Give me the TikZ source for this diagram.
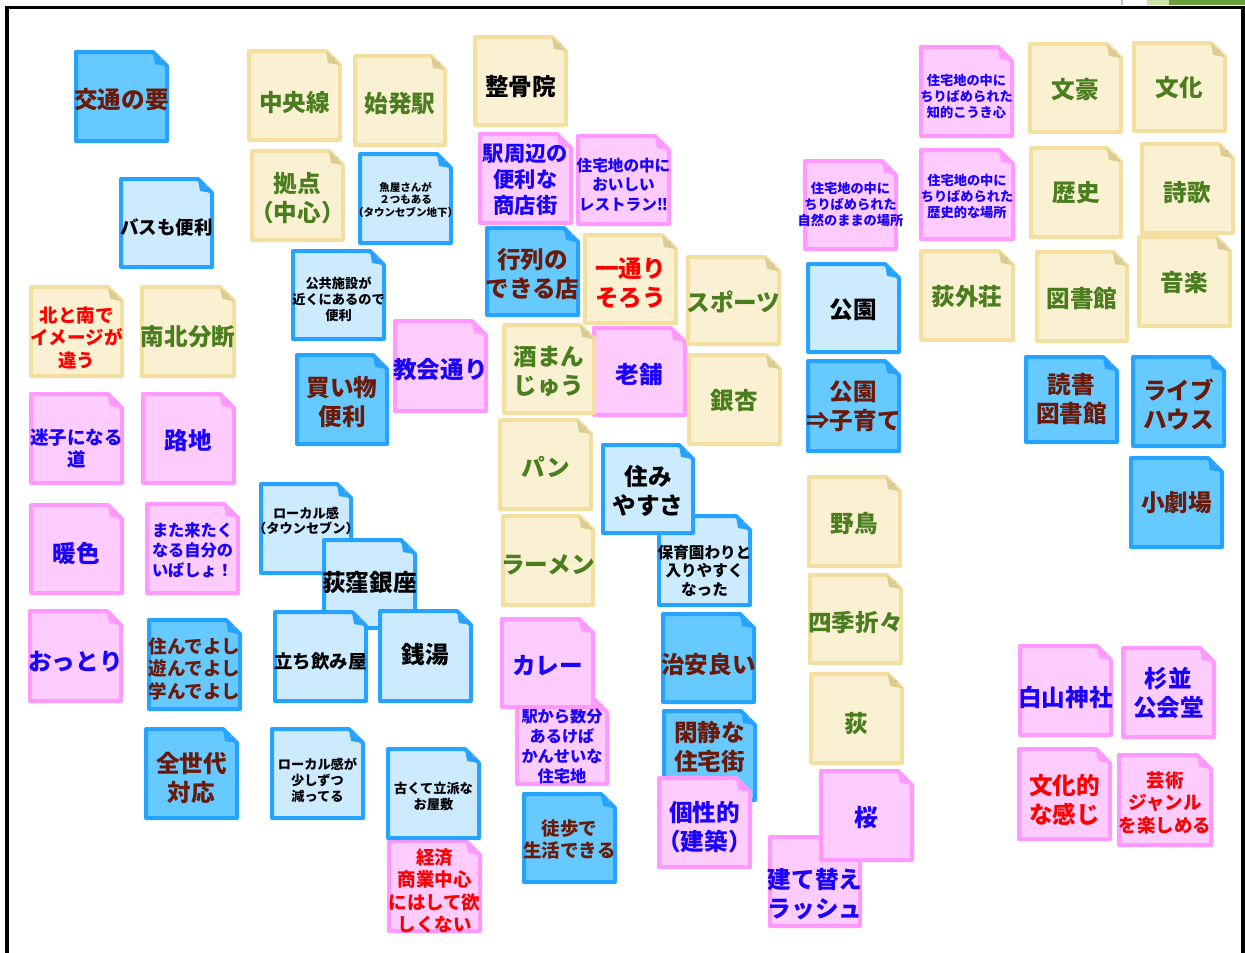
\documentclass[tikz,border=0pt]{standalone}
\usepackage{fontspec}
\setmainfont{Noto Sans CJK JP}
\definecolor{tanfill}{HTML}{FAF0D2}
\definecolor{tanline}{HTML}{F3E0A0}
\definecolor{pinkfill}{HTML}{FFCCFF}
\definecolor{pinkline}{HTML}{FF99FF}
\definecolor{lbluefill}{HTML}{CCEBFF}
\definecolor{dbluefill}{HTML}{66C9FF}
\definecolor{blueline}{HTML}{26A2FF}
\definecolor{txgreen}{HTML}{4A7D1E}
\definecolor{txred}{HTML}{FF0000}
\definecolor{txblue}{HTML}{1A00FF}
\definecolor{txbrown}{HTML}{6B1A0A}
\definecolor{lgreen}{HTML}{C8E2A8}
\definecolor{dgreen}{HTML}{6A9F3A}
\tikzset{
  paper/.style={line width=4pt, line join=round},
  ptan/.style={fill=tanfill, draw=tanline},
  ppink/.style={fill=pinkfill, draw=pinkline},
  plblue/.style={fill=lbluefill, draw=blueline},
  pdblue/.style={fill=dbluefill, draw=blueline},
  fold ptan/.style={fill=tanline!85!black!60!tanline},
  fold ppink/.style={fill=pinkline},
  fold plblue/.style={fill=blueline},
  fold pdblue/.style={fill=blueline},
  notetext/.style={inner sep=0pt, align=center},
  big/.style={font=\bfseries\fontsize{23.6}{29}\selectfont},
  big21/.style={font=\bfseries\fontsize{21.3}{26}\selectfont},
  mid/.style={font=\bfseries\fontsize{18.5}{22.5}\selectfont},
  m16/.style={font=\bfseries\fontsize{16.2}{20}\selectfont},
  m155/.style={font=\bfseries\fontsize{15.6}{19.5}\selectfont},
  m15/.style={font=\bfseries\fontsize{15.6}{18.5}\selectfont},
  s13/.style={font=\bfseries\fontsize{13.2}{16}\selectfont},
  s13b/.style={font=\bfseries\fontsize{13.2}{15}\selectfont},
  s10/.style={font=\bfseries\fontsize{10.5}{12.5}\selectfont},
  tg/.style={text=txgreen},
  tr/.style={text=txred},
  tb/.style={text=txblue},
  tk/.style={text=black},
  tbr/.style={text=txbrown},
}
% #1 name, #2 paper, #3 x1, #4 y1, #5 x2, #6 y2, #7 text y, #8 text style, #9 text
\newcommand\sticky[9]{%
  \draw[paper,#2] ({#3+2},{#4+2}) -- ({#5-16},{#4+2}) -- ({#5-2},{#4+16}) -- ({#5-2},{#6-2}) -- ({#3+2},{#6-2}) -- cycle;
  \fill[fold #2] ({#5-16},{#4+2}) -- ({#5-14},{#4+14}) -- ({#5-2},{#4+16}) -- cycle;
  \fill[gray!60] ({#5-8},{#4+9}) circle (0.9);
  \node[notetext,#8] (#1) at ({(#3+#5)/2},#7) {#9};
}
\begin{document}
\begin{tikzpicture}[x=1pt,y=-1pt]
\useasboundingbox (0,0) rectangle (1245,953);
\fill[white] (0,0) rectangle (1245,953);
% frame
\fill[gray!50] (1121,0) rectangle (1123,5);
\fill[lgreen] (1147,0) rectangle (1169,5);
\fill[dgreen] (1169,0) rectangle (1245,5);
\fill[black] (5,6) rectangle (9,953);
\fill[black] (5,6) rectangle (1245,9);
\fill[black] (1241,6) rectangle (1245,953);
% column 1-2
\sticky{kotsu}{pdblue}{74}{50}{169}{143}{100}{big,tbr}{交通の要}
\sticky{bus}{plblue}{119}{177}{214}{269}{227}{mid,tk}{バスも便利}
\sticky{kitatominami}{ptan}{29}{285}{124}{378}{337.5}{mid,tr}{北と南で\\イメージが\\違う}
\sticky{nanboku}{ptan}{140}{285}{236}{378}{337}{big,tg}{南北分断}
\sticky{maigo}{ppink}{29}{392}{124}{485}{448.5}{mid,tb}{迷子になる\\道}
\sticky{roji}{ppink}{141}{392}{236}{485}{440}{big,tb}{路地}
\sticky{danshoku}{ppink}{29}{503}{124}{595}{553}{big,tb}{暖色}
\sticky{matakitaku}{ppink}{145}{502}{240}{595}{550.5}{m16,tb}{また来たく\\なる自分の\\いばしょ！}
\sticky{otori}{ppink}{28}{609}{123}{703}{662}{big,tb}{おっとり}
\sticky{sundeyoshi}{pdblue}{147}{618}{242}{711}{668.5}{mid,tbr}{住んでよし\\遊んでよし\\学んでよし}
\sticky{zensedai}{pdblue}{144}{727}{239}{820}{777.5}{big,tbr}{全世代\\対応}
% column 3-4
\sticky{chuo}{ptan}{247}{49}{342}{142}{103}{big,tg}{中央線}
\sticky{shihatsu}{ptan}{353}{54}{447}{147}{104}{big,tg}{始発駅}
\sticky{kyoten}{ptan}{250}{149}{345}{242}{198}{big,tg}{拠点\\（中心）}
\sticky{sakanaya}{plblue}{358}{152}{453}{245}{199.5}{s10,tk}{魚屋さんが\\２つもある\\（タウンセブン地下）}
\sticky{kokyo}{plblue}{291}{249}{386}{341}{299}{s13,tk}{公共施設が\\近くにあるので\\便利}
\sticky{kaimono}{pdblue}{295}{353}{389}{446}{402.5}{big,tbr}{買い物\\便利}
\sticky{kyokai}{ppink}{393}{319}{488}{413}{370}{big,tb}{教会通り}
\sticky{local1}{plblue}{259}{482}{353}{575}{520.5}{s13b,tk}{ローカル感\\（タウンセブン）}
\sticky{ogikubo}{plblue}{322}{538}{417}{630}{583}{big,tk}{荻窪銀座}
\sticky{tachinomi}{plblue}{273}{610}{368}{703}{661}{mid,tk}{立ち飲み屋}
\sticky{sento}{plblue}{378}{609}{473}{703}{655}{big,tk}{銭湯}
\sticky{local2}{plblue}{270}{727}{365}{820}{780}{s13,tk}{ローカル感が\\少しずつ\\減ってる}
\sticky{keizai}{ppink}{387}{839}{482}{933}{891}{mid,tr}{経済\\商業中心\\にはして欲\\しくない}
\sticky{furukute}{plblue}{386}{747}{481}{840}{797}{s13,tk}{古くて立派な\\お屋敷}
% column 5-6
\sticky{seikotsu}{ptan}{473}{35}{568}{127}{87}{big,tk}{整骨院}
\sticky{ekishuhen}{ppink}{478}{132}{573}{225}{180}{big21,tb}{駅周辺の\\便利な\\商店街}
\sticky{oishii}{ppink}{576}{134}{671}{226}{184.5}{m155,tb}{住宅地の中に\\おいしい\\レストラン‼}
\sticky{gyoretsu}{pdblue}{485}{226}{580}{317}{274.5}{big,tbr}{行列の\\できる店}
\sticky{hitotori}{ptan}{583}{233}{678}{325}{283}{big,tr}{一通り\\そろう}
\sticky{shinise}{ppink}{592}{326}{687}{417}{375}{big,tb}{老舗}
\sticky{sakeman}{ptan}{502}{323}{596}{415}{371}{big,tg}{酒まん\\じゅう}
\sticky{pan}{ptan}{498}{418}{593}{511}{467}{big,tg}{パン}
\sticky{ramen}{ptan}{501}{514}{595}{607}{565}{big,tg}{ラーメン}
\sticky{hoikuen}{plblue}{657}{514}{752}{607}{570.5}{m15,tk}{保育園わりと\\入りやすく\\なった}
\sticky{sumiyasusa}{plblue}{601}{443}{695}{535}{491}{big,tk}{住み\\やすさ}
\sticky{ekikara}{ppink}{515}{696}{609}{786}{746.5}{m16,tb}{駅から数分\\あるけば\\かんせいな\\住宅地}
\sticky{curry}{ppink}{500}{617}{595}{709}{666}{big,tb}{カレー}
\sticky{toho}{pdblue}{522}{792}{617}{884}{839.5}{mid,tbr}{徒歩で\\生活できる}
\sticky{chian}{pdblue}{661}{612}{756}{704}{665}{big,tbr}{治安良い}
\sticky{kansei}{pdblue}{662}{709}{757}{802}{747.5}{big,tbr}{閑静な\\住宅街}
\sticky{kosei}{ppink}{657}{776}{752}{869}{827.5}{big,tb}{個性的\\（建築）}
% column 7
\sticky{sports}{ptan}{686}{255}{781}{346}{302}{big,tg}{スポーツ}
\sticky{icho}{ptan}{687}{353}{782}{446}{401}{big,tg}{銀杏}
\sticky{shizen}{ppink}{803}{159}{898}{251}{204.5}{s13,tb}{住宅地の中に\\ちりばめられた\\自然のままの場所}
\sticky{koen}{plblue}{806}{262}{901}{354}{310}{big,tk}{公園}
\sticky{koen2}{pdblue}{806}{359}{901}{453}{406}{big,tbr}{公園\\⇒子育て}
\sticky{yacho}{ptan}{807}{475}{902}{568}{523}{big,tg}{野鳥}
\sticky{shiki}{ptan}{808}{573}{903}{665}{623}{big,tg}{四季折々}
\sticky{ogi}{ptan}{809}{672}{904}{765}{724}{big,tg}{荻}
\sticky{tatekae}{ppink}{768}{835}{862}{928}{894.5}{big,tb}{建て替え\\ラッシュ}
\sticky{sakura}{ppink}{819}{769}{914}{862}{818}{big,tb}{桜}
% right columns
\sticky{chiteki}{ppink}{919}{45}{1014}{138}{96.5}{s13,tb}{住宅地の中に\\ちりばめられた\\知的こうき心}
\sticky{bungo}{ptan}{1028}{42}{1123}{134}{90}{big,tg}{文豪}
\sticky{bunka}{ptan}{1132}{41}{1227}{133}{88}{big,tg}{文化}
\sticky{rekishiteki}{ppink}{919}{148}{1015}{241}{197}{s13,tb}{住宅地の中に\\ちりばめられた\\歴史的な場所}
\sticky{rekishi}{ptan}{1029}{146}{1123}{239}{193}{big,tg}{歴史}
\sticky{shika}{ptan}{1140}{142}{1235}{235}{193}{big,tg}{詩歌}
\sticky{tekigaiso}{ptan}{919}{249}{1015}{342}{297}{big,tg}{荻外荘}
\sticky{toshokan}{ptan}{1035}{250}{1129}{343}{299}{big,tg}{図書館}
\sticky{ongaku}{ptan}{1137}{235}{1232}{328}{283}{big,tg}{音楽}
\sticky{dokusho}{pdblue}{1024}{355}{1119}{444}{399.5}{big,tbr}{読書\\図書館}
\sticky{livehouse}{pdblue}{1131}{355}{1226}{448}{404}{big,tbr}{ライブ\\ハウス}
\sticky{shogekijo}{pdblue}{1129}{456}{1224}{549}{503}{big,tbr}{小劇場}
\sticky{hakusan}{ppink}{1018}{644}{1113}{737}{697}{big,tb}{白山神社}
\sticky{suginami}{ppink}{1121}{646}{1216}{739}{693.5}{big,tb}{杉並\\公会堂}
\sticky{bunkateki}{ppink}{1017}{747}{1112}{841}{800}{big,tr}{文化的\\な感じ}
\sticky{geijutsu}{ppink}{1117}{753}{1213}{847}{802.5}{mid,tr}{芸術\\ジャンル\\を楽しめる}
\end{tikzpicture}
\end{document}
